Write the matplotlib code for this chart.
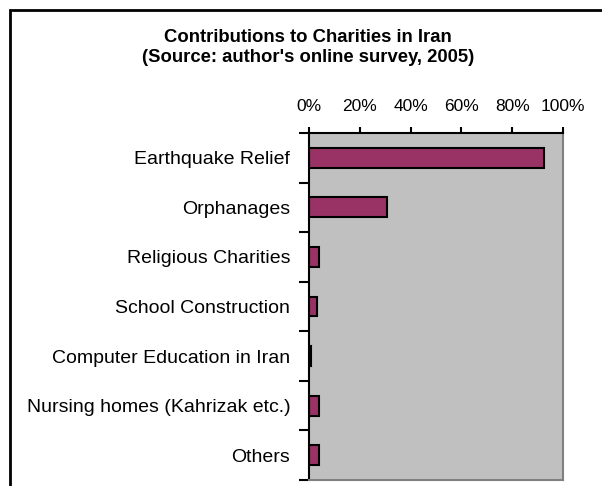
import matplotlib.pyplot as plt
from matplotlib.patches import Rectangle

plt.rcParams['font.family'] = ['Liberation Sans', 'DejaVu Sans']

charities = ['Earthquake Relief', 'Orphanages', 'Religious Charities',
             'School Construction', 'Computer Education in Iran',
             'Nursing homes (Kahrizak etc.)', 'Others']
shares = [92.4, 30.7, 3.9, 3.1, 0.8, 3.9, 3.9]
xticks = [0, 20, 40, 60, 80, 100]


def generate_chart(out_file):
    fig = plt.figure(figsize=(6.02, 4.86), dpi=100)
    ax = fig.add_axes([309 / 602, 6 / 486, 254 / 602, 347 / 486])

    # outer frame, cut off at right and bottom like the source image
    fig.patches.append(Rectangle((10 / 602, -0.2), 1.2, 1.2 - 10 / 486,
                                 transform=fig.transFigure, fill=False,
                                 edgecolor='black', linewidth=2, clip_on=False))

    pos = list(range(len(charities)))
    ax.barh(pos, shares, height=0.4, color='#993366', edgecolor='black', linewidth=1.5)
    ax.set_facecolor('#c0c0c0')
    ax.set_xlim(0, 100)
    ax.set_ylim(len(charities) - 0.5, -0.5)

    ax.xaxis.tick_top()
    ax.set_xticks(xticks)
    ax.set_xticklabels([f'{v}%' for v in xticks], fontsize=12.5)
    ax.tick_params(axis='x', direction='out', length=4, width=1.5, pad=10)

    ax.set_yticks([p - 0.5 for p in range(len(charities) + 1)])
    ax.set_yticklabels([])
    ax.tick_params(axis='y', which='major', direction='out', length=7, width=1.5)
    ax.set_yticks(pos, minor=True)
    ax.set_yticklabels(charities, minor=True, fontsize=14)
    ax.tick_params(axis='y', which='minor', length=0, pad=13.5)

    for side in ['top', 'left']:
        ax.spines[side].set_color('black')
        ax.spines[side].set_linewidth(1.5)
    for side in ['right', 'bottom']:
        ax.spines[side].set_color('#808080')
        ax.spines[side].set_linewidth(1.5)

    fig.text(308 / 602, 1 - 38 / 486, 'Contributions to Charities in Iran',
             ha='center', va='center', fontsize=13.3, fontweight='bold')
    fig.text(308 / 602, 1 - 58 / 486, "(Source: author's online survey, 2005)",
             ha='center', va='center', fontsize=13.3, fontweight='bold')

    plt.savefig(out_file)


if __name__ == "__main__":
    generate_chart('out.png')
